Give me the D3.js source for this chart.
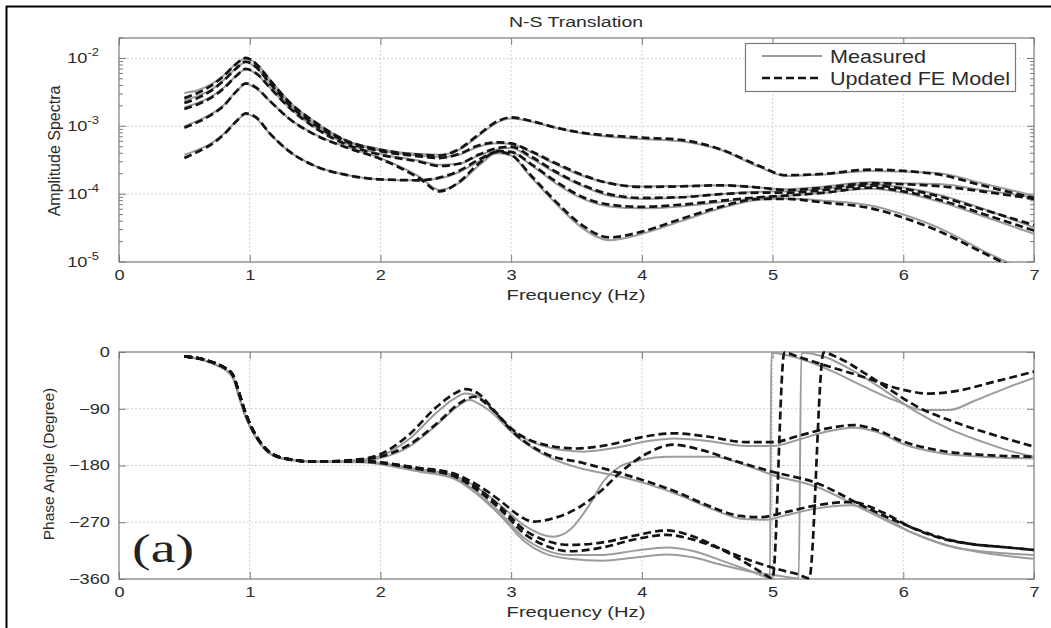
<!DOCTYPE html>
<html>
<head>
<meta charset="utf-8">
<script src="https://cdn.jsdelivr.net/npm/d3@7"></script>
<style>
  body { margin: 0; background: #fff; }
  svg { display: block; font-family: "Liberation Sans", Arial, sans-serif; }
</style>
</head>
<body>
<svg id="chart" width="1051" height="628"></svg>
<script>
"use strict";

// ---- data ----

// frequency grid used for the amplitude spectra (Hz)
const ampFreq = [0.5, 0.6, 0.7, 0.8, 0.9, 0.97, 1.05, 1.15, 1.3, 1.5, 1.75, 2.0, 2.3, 2.45, 2.6, 2.75, 2.9,
    3.0, 3.15, 3.35, 3.55, 3.75, 4.0, 4.3, 4.6, 4.9, 5.1, 5.4, 5.75, 6.0, 6.3, 6.6, 7.0];

// amplitude spectra, measured (grey) and updated FE model (dashed), one pair per record
const ampMeas1 = [3.1e-3, 3.4e-3, 4.1e-3, 5.6e-3, 8.5e-3, 1.0e-2, 8.4e-3, 5.0e-3, 2.35e-3, 1.15e-3, 6.1e-4, 4.6e-4, 3.9e-4, 3.8e-4, 4.5e-4, 7.2e-4, 1.15e-3,
    1.3e-3, 1.18e-3, 9.4e-4, 7.8e-4, 7.0e-4, 6.5e-4, 6.0e-4, 4.5e-4, 2.5e-4, 1.85e-4, 1.95e-4, 2.2e-4, 2.15e-4, 2.0e-4, 1.45e-4, 9.5e-5];
const ampModel1 = [2.6e-3, 3.1e-3, 3.9e-3, 5.5e-3, 8.4e-3, 1.02e-2, 8.3e-3, 4.9e-3, 2.3e-3, 1.15e-3, 6.0e-4, 4.5e-4, 3.8e-4, 3.7e-4, 4.6e-4, 7.5e-4, 1.2e-3,
    1.35e-3, 1.2e-3, 9.5e-4, 8.0e-4, 7.3e-4, 6.8e-4, 6.3e-4, 4.6e-4, 2.6e-4, 1.9e-4, 2.0e-4, 2.3e-4, 2.2e-4, 1.9e-4, 1.35e-4, 8.8e-5];

const ampMeas2 = [2.4e-3, 2.8e-3, 3.4e-3, 4.8e-3, 7.3e-3, 8.8e-3, 7.3e-3, 4.4e-3, 2.1e-3, 1.05e-3, 5.9e-4, 4.4e-4, 3.7e-4, 3.5e-4, 3.8e-4, 5.0e-4, 5.6e-4,
    5.5e-4, 4.2e-4, 2.7e-4, 1.85e-4, 1.45e-4, 1.3e-4, 1.32e-4, 1.35e-4, 1.25e-4, 1.18e-4, 1.3e-4, 1.5e-4, 1.45e-4, 1.4e-4, 1.15e-4, 9.0e-5];
const ampModel2 = [2.2e-3, 2.6e-3, 3.3e-3, 4.7e-3, 7.2e-3, 9.0e-3, 7.4e-3, 4.4e-3, 2.1e-3, 1.05e-3, 5.8e-4, 4.3e-4, 3.6e-4, 3.4e-4, 3.9e-4, 5.2e-4, 5.8e-4,
    5.6e-4, 4.3e-4, 2.8e-4, 1.9e-4, 1.45e-4, 1.28e-4, 1.3e-4, 1.35e-4, 1.25e-4, 1.15e-4, 1.25e-4, 1.45e-4, 1.4e-4, 1.3e-4, 1.1e-4, 8.5e-5];

const ampMeas3 = [1.9e-3, 2.2e-3, 2.7e-3, 3.7e-3, 5.6e-3, 6.9e-3, 5.9e-3, 3.8e-3, 1.9e-3, 9.6e-4, 5.4e-4, 3.9e-4, 3.1e-4, 2.7e-4, 2.8e-4, 3.7e-4, 4.6e-4,
    4.8e-4, 3.4e-4, 2.0e-4, 1.3e-4, 9.5e-5, 8.5e-5, 9.0e-5, 1.0e-4, 1.08e-4, 1.1e-4, 1.2e-4, 1.4e-4, 1.25e-4, 9.5e-5, 6.2e-5, 3.2e-5];
const ampModel3 = [1.8e-3, 2.1e-3, 2.6e-3, 3.6e-3, 5.6e-3, 7.0e-3, 6.0e-3, 3.8e-3, 1.9e-3, 9.5e-4, 5.3e-4, 3.8e-4, 3.0e-4, 2.6e-4, 2.8e-4, 3.8e-4, 4.8e-4,
    5.0e-4, 3.6e-4, 2.1e-4, 1.35e-4, 1.0e-4, 8.8e-5, 9.0e-5, 1.0e-4, 1.05e-4, 1.05e-4, 1.15e-4, 1.35e-4, 1.2e-4, 9.0e-5, 6.0e-5, 3.5e-5];

const ampMeas4 = [1.0e-3, 1.2e-3, 1.5e-3, 2.05e-3, 3.3e-3, 4.2e-3, 3.6e-3, 2.4e-3, 1.3e-3, 7.6e-4, 4.9e-4, 3.4e-4, 1.8e-4, 1.15e-4, 1.45e-4, 2.6e-4, 4.1e-4,
    4.1e-4, 2.7e-4, 1.4e-4, 8.5e-5, 6.6e-5, 6.2e-5, 6.6e-5, 7.6e-5, 8.8e-5, 9.5e-5, 1.05e-4, 1.2e-4, 1.05e-4, 7.5e-5, 4.8e-5, 2.6e-5];
const ampModel4 = [9.5e-4, 1.15e-3, 1.45e-3, 2.0e-3, 3.3e-3, 4.3e-3, 3.7e-3, 2.4e-3, 1.3e-3, 7.5e-4, 4.8e-4, 3.3e-4, 1.7e-4, 1.1e-4, 1.5e-4, 2.8e-4, 4.3e-4,
    4.2e-4, 2.8e-4, 1.5e-4, 9.0e-5, 7.0e-5, 6.5e-5, 7.0e-5, 8.0e-5, 9.0e-5, 9.5e-5, 1.05e-4, 1.25e-4, 1.1e-4, 8.0e-5, 5.2e-5, 2.9e-5];

const ampMeas5 = [3.8e-4, 4.5e-4, 5.5e-4, 7.7e-4, 1.2e-3, 1.5e-3, 1.3e-3, 7.9e-4, 4.3e-4, 2.6e-4, 1.9e-4, 1.65e-4, 1.6e-4, 1.7e-4, 2.1e-4, 3.0e-4, 4.0e-4,
    3.7e-4, 1.8e-4, 7.0e-5, 3.1e-5, 2.1e-5, 2.6e-5, 4.0e-5, 6.2e-5, 8.3e-5, 8.6e-5, 8.0e-5, 6.8e-5, 5.0e-5, 3.0e-5, 1.5e-5, 6.5e-6];
const ampModel5 = [3.4e-4, 4.2e-4, 5.3e-4, 7.5e-4, 1.2e-3, 1.55e-3, 1.35e-3, 8.0e-4, 4.3e-4, 2.6e-4, 1.9e-4, 1.65e-4, 1.6e-4, 1.75e-4, 2.2e-4, 3.2e-4, 4.2e-4,
    3.8e-4, 1.9e-4, 7.5e-5, 3.4e-5, 2.3e-5, 2.8e-5, 4.3e-5, 6.5e-5, 8.5e-5, 8.5e-5, 7.5e-5, 6.2e-5, 4.5e-5, 2.7e-5, 1.4e-5, 6.0e-6];

// phase angle [Hz, degree]; all records share the start below 1.5 Hz
const phaseHeadMeas = [[0.5, -7], [0.65, -13], [0.76, -22], [0.82, -29], [0.88, -44], [0.92, -72], [0.97, -103],
    [1.04, -133], [1.12, -155], [1.25, -169], [1.5, -174]];
const phaseHeadModel = [[0.5, -7], [0.65, -12], [0.76, -20], [0.8, -24], [0.87, -36], [0.92, -66], [0.97, -98],
    [1.04, -130], [1.12, -153], [1.25, -168], [1.5, -174]];

const phaseMeas1 = [[1.85, -171], [2.0, -165], [2.22, -138], [2.42, -98], [2.55, -76], [2.65, -66], [2.76, -72], [2.9, -102],
    [3.05, -130], [3.3, -152], [3.55, -158], [3.8, -152], [4.05, -141], [4.25, -137], [4.5, -141], [4.8, -149], [5.0, -149],
    [5.2, -139], [5.4, -127], [5.62, -120], [5.8, -127], [6.0, -146], [6.3, -161], [6.6, -166], [7.0, -169]];
const phaseModel1 = [[1.85, -170], [2.0, -162], [2.22, -131], [2.42, -89], [2.55, -68], [2.65, -59], [2.75, -66], [2.88, -95],
    [3.0, -121], [3.2, -144], [3.5, -153], [3.75, -147], [4.0, -135], [4.24, -129], [4.5, -134], [4.8, -143], [5.0, -143],
    [5.2, -133], [5.4, -122], [5.62, -116], [5.8, -124], [6.0, -142], [6.3, -157], [6.6, -163], [7.0, -166]];

const phaseMeas2 = [[1.85, -172], [2.0, -168], [2.22, -150], [2.45, -112], [2.58, -88], [2.68, -76], [2.8, -88], [3.06, -137],
    [3.3, -168], [3.52, -184], [3.8, -196], [4.05, -210], [4.3, -228], [4.55, -250], [4.78, -265], [4.95, -266], [5.1, -259],
    [5.34, -248], [5.6, -243], [5.85, -262], [6.05, -285], [6.3, -305], [6.6, -318], [7.0, -328]];
const phaseModel2 = [[1.85, -171], [2.0, -166], [2.22, -147], [2.45, -110], [2.6, -82], [2.72, -71], [2.85, -90], [3.02, -128],
    [3.27, -162], [3.55, -176], [3.83, -192], [4.05, -206], [4.29, -224], [4.5, -243], [4.75, -260], [4.9, -262], [5.1, -254],
    [5.34, -243], [5.6, -238], [5.85, -255], [6.05, -277], [6.3, -296], [6.5, -304], [6.8, -310], [7.0, -314]];

const phaseMeas3 = [[1.85, -174], [2.3, -186], [2.55, -195], [2.7, -210], [2.93, -245], [3.1, -275], [3.32, -293], [3.45, -282],
    [3.6, -242], [3.7, -207], [3.83, -182], [4.0, -171], [4.2, -166], [4.55, -166], [4.8, -180], [5.0, -195], [5.34, -214],
    [5.7, -250], [6.05, -285], [6.4, -310], [6.7, -318], [7.0, -322]];
const phaseModel3 = [[1.85, -173], [2.3, -184], [2.55, -192], [2.7, -206], [2.93, -238], [3.05, -258], [3.17, -269], [3.3, -265],
    [3.53, -245], [3.7, -218], [3.83, -192], [4.04, -161], [4.24, -147], [4.45, -155], [4.7, -172], [5.0, -190], [5.34, -208],
    [5.7, -245], [6.05, -277], [6.3, -295], [6.5, -304], [6.8, -310], [7.0, -314]];

const phaseMeas4 = [[1.85, -174], [2.3, -188], [2.55, -198], [2.7, -216], [2.93, -258], [3.1, -295], [3.25, -313], [3.45, -322],
    [3.7, -322], [3.95, -315], [4.19, -310], [4.4, -316], [4.6, -330], [4.8, -345], [4.95, -357], [4.98, -359], [4.99, -1],
    [5.2, -10], [5.45, -30], [5.7, -55], [5.95, -78], [6.15, -92], [6.35, -92], [6.55, -77], [6.8, -56], [7.0, -41]];
const phaseModel4 = [[1.85, -173], [2.3, -185], [2.55, -194], [2.7, -210], [2.93, -248], [3.1, -282], [3.25, -298], [3.45, -306],
    [3.7, -302], [3.95, -291], [4.19, -283], [4.4, -293], [4.6, -312], [4.8, -335], [4.92, -350], [5.0, -359], [5.09, -1],
    [5.2, -8], [5.4, -21], [5.7, -40], [6.0, -60], [6.2, -66], [6.4, -62], [6.7, -47], [7.0, -31]];

const phaseMeas5 = [[1.85, -175], [2.3, -190], [2.55, -200], [2.7, -219], [2.93, -262], [3.1, -300], [3.25, -319], [3.45, -328],
    [3.7, -331], [3.95, -326], [4.19, -321], [4.4, -326], [4.6, -337], [4.85, -349], [5.05, -355], [5.2, -359], [5.22, -1],
    [5.4, -8], [5.6, -28], [5.85, -60], [6.1, -95], [6.35, -122], [6.6, -142], [6.8, -156], [7.0, -166]];
const phaseModel5 = [[1.85, -174], [2.3, -186], [2.55, -196], [2.7, -213], [2.93, -252], [3.1, -288], [3.25, -306], [3.45, -316],
    [3.7, -310], [3.95, -297], [4.19, -290], [4.4, -298], [4.6, -312], [4.85, -332], [5.05, -345], [5.2, -353], [5.28, -359],
    [5.39, -1], [5.5, -9], [5.7, -33], [5.9, -60], [6.1, -86], [6.35, -108], [6.7, -132], [7.0, -150]];

// axis ticks and texts
const freqTicks = [0, 1, 2, 3, 4, 5, 6, 7];
const ampTicks = [1e-5, 1e-4, 1e-3, 1e-2];
const phaseTicks = [0, -90, -180, -270, -360];
const legendLabels = ["Measured", "Updated FE Model"];

// ---- layout ----
const svg = d3.select("#chart");
const GREY = "#9c9c9c", INK = "#141414", TXT = "#2b2b2b";
const SX = 1.3; // the figure's text is stretched sideways

const xScale = d3.scaleLinear().domain([0, 7]).range([119, 1034]);
const yAmp = d3.scaleLog().domain([1e-5, 2e-2]).range([262, 38]);
const yPhase = d3.scaleLinear().domain([-360, 0]).range([579, 352]);

// outer black frame of the figure (only top and left show)
svg.append("line").attr("x1", 6).attr("x2", 1051).attr("y1", 6.5).attr("y2", 6.5)
    .attr("stroke", "#000").attr("stroke-width", 2);
svg.append("line").attr("x1", 6.5).attr("x2", 6.5).attr("y1", 6).attr("y2", 628)
    .attr("stroke", "#000").attr("stroke-width", 2);

function addText(x, y, str, o) {
    o = o || {};
    return svg.append("text")
        .attr("transform", "translate(" + x + "," + y + ") scale(" + (o.sx || SX) + ",1)" + (o.rotate ? " rotate(" + o.rotate + ")" : ""))
        .attr("text-anchor", o.anchor || "middle")
        .attr("font-size", o.size || 15)
        .attr("font-family", o.family || null)
        .attr("fill", o.fill || TXT)
        .text(str);
}

// draws grid, box, ticks and x labels of one axes
function drawAxes(name, yScale, yGrid) {
    const [top, bottom] = [yScale.range()[1], yScale.range()[0]];
    const g = svg.append("g").attr("class", name);

    // dotted grid
    g.append("g").selectAll("line").data(freqTicks.slice(1, -1)).join("line")
        .attr("x1", d => xScale(d)).attr("x2", d => xScale(d))
        .attr("y1", top).attr("y2", bottom)
        .attr("stroke", "#c4c4c4").attr("stroke-dasharray", "1.5,2.5");
    g.append("g").selectAll("line").data(yGrid).join("line")
        .attr("x1", xScale(0)).attr("x2", xScale(7))
        .attr("y1", d => yScale(d)).attr("y2", d => yScale(d))
        .attr("stroke", "#c4c4c4").attr("stroke-dasharray", "1.5,2.5");

    // inward ticks on all four sides
    const xb = g.append("g").attr("transform", "translate(0," + bottom + ")")
        .call(d3.axisBottom(xScale).tickValues(freqTicks).tickSizeInner(-7).tickSizeOuter(0).tickPadding(8).tickFormat(d3.format("d")));
    g.append("g").attr("transform", "translate(0," + top + ")")
        .call(d3.axisTop(xScale).tickValues(freqTicks).tickSizeInner(-7).tickSizeOuter(0).tickFormat(""));
    g.selectAll(".domain").remove();
    g.selectAll(".tick line").attr("stroke", "#7a7a7a");
    xb.selectAll("text").attr("font-size", 14).attr("fill", TXT).attr("font-family", null)
        .attr("transform", "scale(" + SX + ",1)");
    return g;
}

function drawBox(g, yScale) {
    const [top, bottom] = [yScale.range()[1], yScale.range()[0]];
    g.append("rect").attr("x", xScale(0)).attr("y", top)
        .attr("width", xScale(7) - xScale(0)).attr("height", bottom - top)
        .attr("fill", "none").attr("stroke", "#7a7a7a").attr("stroke-width", 1.2);
}

function clipFor(id, yScale) {
    const [top, bottom] = [yScale.range()[1], yScale.range()[0]];
    svg.append("clipPath").attr("id", id).append("rect")
        .attr("x", xScale(0)).attr("y", top - 1)
        .attr("width", xScale(7) - xScale(0)).attr("height", bottom - top + 2);
    return "url(#" + id + ")";
}

// ---------- top: amplitude spectra ----------
const gAmp = drawAxes("amp", yAmp, [1e-4, 1e-3, 1e-2]);

// log ticks, left and right, major and minor
const ampMinor = [];
[-5, -4, -3, -2].forEach(e => d3.range(2, 10).forEach(k => {
    const v = k * Math.pow(10, e);
    if (v <= 2e-2) ampMinor.push(v);
}));
[[xScale(0), 1], [xScale(7), -1]].forEach(([x, dir]) => {
    gAmp.append("g").selectAll("line").data(ampTicks.concat(ampMinor)).join("line")
        .attr("x1", x).attr("x2", d => x + dir * (ampTicks.includes(d) ? 7 : 4))
        .attr("y1", d => yAmp(d)).attr("y2", d => yAmp(d))
        .attr("stroke", "#7a7a7a");
});
ampTicks.forEach(v => {
    const t = svg.append("text")
        .attr("transform", "translate(" + 99 + "," + (yAmp(v) + 5) + ") scale(" + SX + ",1)")
        .attr("text-anchor", "end").attr("font-size", 14).attr("fill", TXT);
    t.append("tspan").text("10");
    t.append("tspan").attr("dy", -7).attr("font-size", 10).text(Math.round(Math.log10(v)));
});
drawBox(gAmp, yAmp);

const ampClip = clipFor("clipAmp", yAmp);
const ampLine = d3.line()
    .x((d, i) => xScale(ampFreq[i]))
    .y(d => yAmp(d))
    .curve(d3.curveMonotoneX);

const ampMeasured = [ampMeas1, ampMeas2, ampMeas3, ampMeas4, ampMeas5];
const ampModel = [ampModel1, ampModel2, ampModel3, ampModel4, ampModel5];

const ampLines = svg.append("g").attr("clip-path", ampClip);
ampLines.selectAll("path.meas").data(ampMeasured).join("path").attr("class", "meas")
    .attr("d", ampLine).attr("fill", "none").attr("stroke", GREY).attr("stroke-width", 2);
ampLines.selectAll("path.model").data(ampModel).join("path").attr("class", "model")
    .attr("d", ampLine).attr("fill", "none").attr("stroke", INK).attr("stroke-width", 2.7)
    .attr("stroke-dasharray", "8,4");

// ---------- bottom: phase angle ----------
const gPh = drawAxes("phase", yPhase, [-90, -180, -270]);
gPh.append("g").call(d3.axisLeft(yPhase).tickValues(phaseTicks).tickSizeInner(-7).tickSizeOuter(0).tickPadding(7))
    .attr("transform", "translate(" + xScale(0) + ",0)")
    .call(a => a.select(".domain").remove())
    .call(a => a.selectAll(".tick line").attr("stroke", "#7a7a7a"))
    .call(a => a.selectAll("text").attr("font-size", 14).attr("fill", TXT).attr("font-family", null)
        .attr("transform", "scale(" + SX + ",1)"));
gPh.append("g").call(d3.axisRight(yPhase).tickValues(phaseTicks).tickSizeInner(-7).tickSizeOuter(0).tickFormat(""))
    .attr("transform", "translate(" + xScale(7) + ",0)")
    .call(a => a.select(".domain").remove())
    .call(a => a.selectAll(".tick line").attr("stroke", "#7a7a7a"));
drawBox(gPh, yPhase);

const phClip = clipFor("clipPh", yPhase);
const phLine = d3.line()
    .x(d => xScale(d[0]))
    .y(d => yPhase(d[1]))
    .curve(d3.curveMonotoneX);

const phMeasured = [phaseMeas1, phaseMeas2, phaseMeas3, phaseMeas4, phaseMeas5].map(t => phaseHeadMeas.concat(t));
const phModel = [phaseModel1, phaseModel2, phaseModel3, phaseModel4, phaseModel5].map(t => phaseHeadModel.concat(t));

const phLines = svg.append("g").attr("clip-path", phClip);
phLines.selectAll("path.meas").data(phMeasured).join("path").attr("class", "meas")
    .attr("d", phLine).attr("fill", "none").attr("stroke", GREY).attr("stroke-width", 2);
phLines.selectAll("path.model").data(phModel).join("path").attr("class", "model")
    .attr("d", phLine).attr("fill", "none").attr("stroke", INK).attr("stroke-width", 2.7)
    .attr("stroke-dasharray", "8,4");

// ---------- texts ----------
addText(576, 27, "N-S Translation", { size: 15 });
addText(576, 300, "Frequency (Hz)", { size: 15.5 });
addText(576, 617, "Frequency (Hz)", { size: 15.5 });
addText(60, 151, "Amplitude Spectra", { size: 16, sx: 1, rotate: -90 });
addText(54, 464, "Phase Angle (Degree)", { size: 15.5, sx: 1, rotate: -90 });
addText(132, 562, "(a)", { size: 40, sx: 1.4, anchor: "start", family: "'Liberation Serif', 'Times New Roman', serif", fill: "#222" });

// ---------- legend ----------
const lg = svg.append("g");
lg.append("rect").attr("x", 745.5).attr("y", 43.5).attr("width", 270).attr("height", 48)
    .attr("fill", "#fff").attr("stroke", "#7a7a7a").attr("stroke-width", 1.2);
const legendStyles = [
    { stroke: GREY, width: 2, dash: null },
    { stroke: INK, width: 2.7, dash: "8,4" }
];
legendLabels.forEach((label, i) => {
    const y = 56 + i * 22;
    lg.append("line").attr("x1", 762).attr("x2", 822).attr("y1", y).attr("y2", y)
        .attr("stroke", legendStyles[i].stroke).attr("stroke-width", legendStyles[i].width)
        .attr("stroke-dasharray", legendStyles[i].dash);
    lg.append("text")
        .attr("transform", "translate(830," + (y + 7) + ") scale(1.2,1)")
        .attr("font-size", 18).attr("fill", TXT).text(label);
});
</script>
</body>
</html>
